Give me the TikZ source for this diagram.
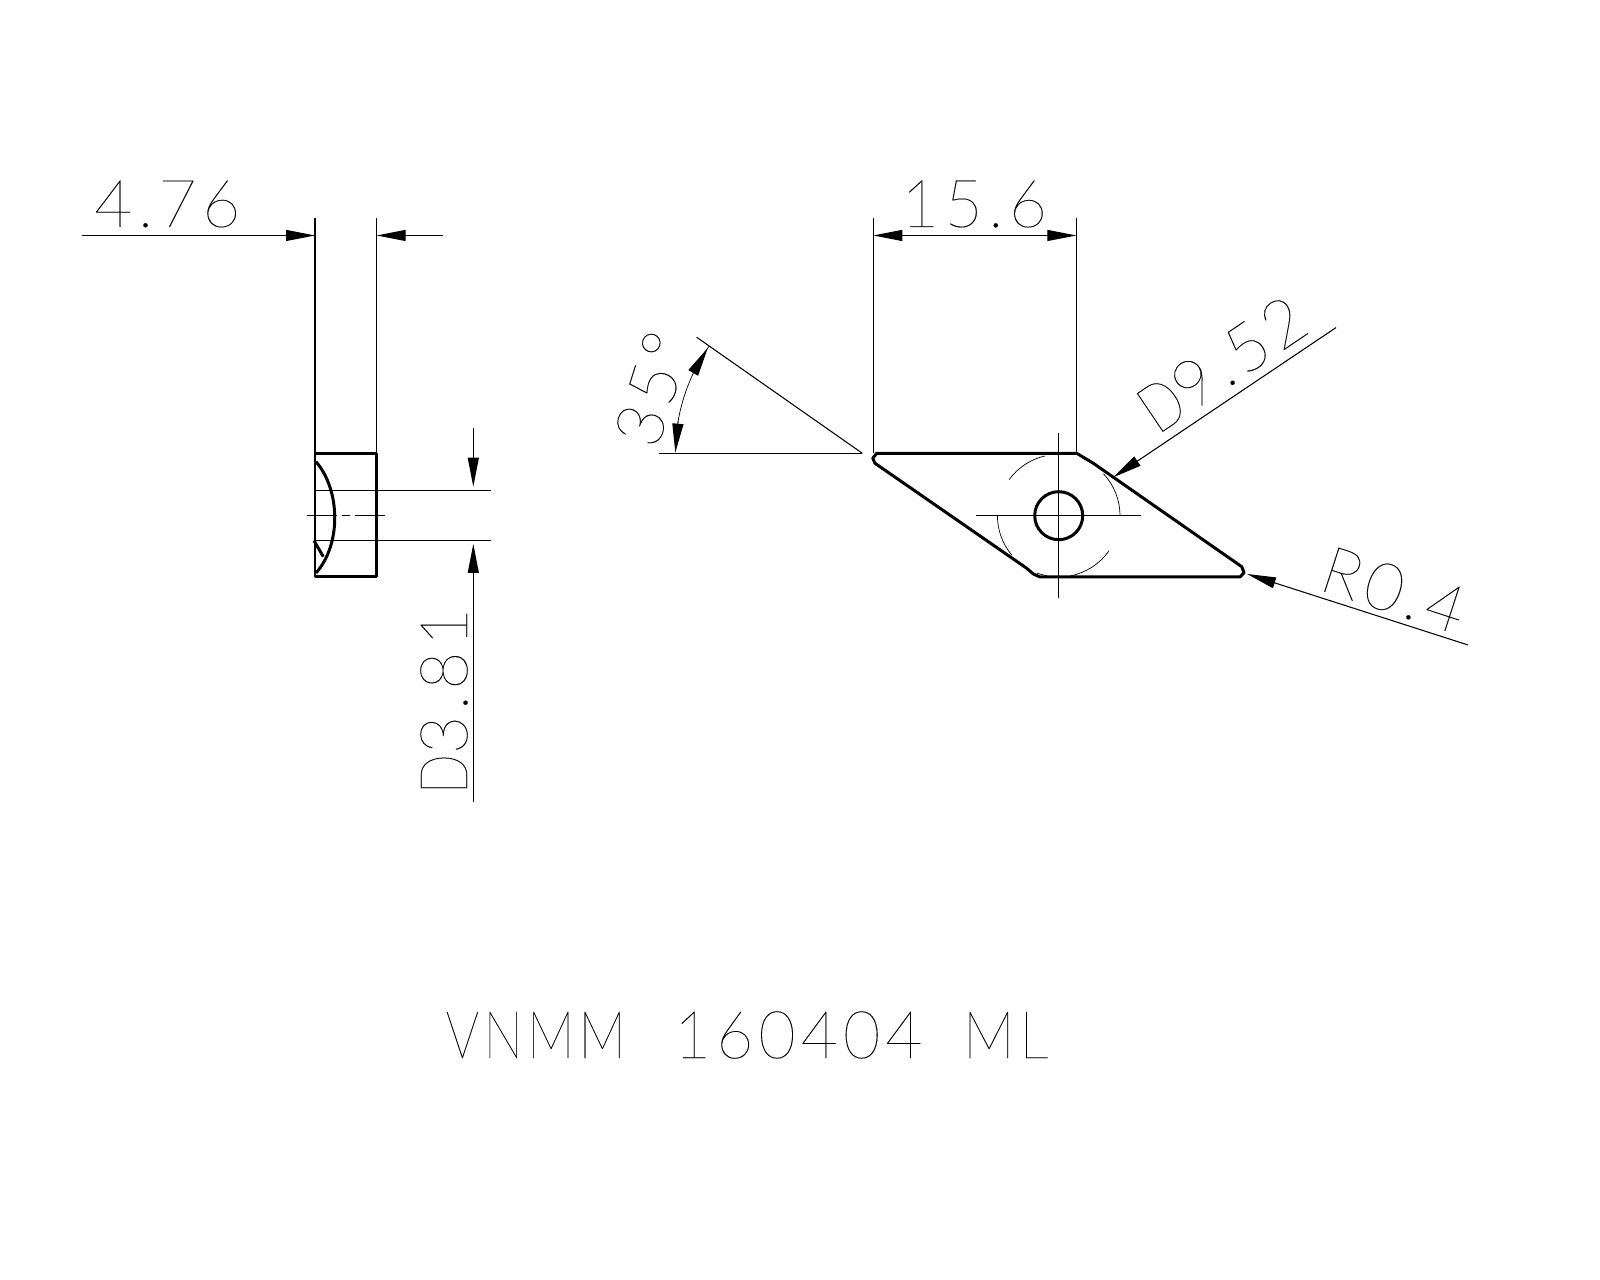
\documentclass[tikz,border=0pt]{standalone}
\usepackage{fontspec}
\newfontfamily\cadfont[LetterSpace=8,FakeBold=0.15]{Lato Hairline}
\newcommand{\cadcaps}[2][0.8]{\scalebox{#1}[1]{#2}}
\usetikzlibrary{arrows.meta}
\tikzset{
  outline/.style={line width=0.85pt, line join=round},
  thinline/.style={line width=0.3pt},
  arcline/.style={line width=0.2pt},
  dimtip/.style={line width=0.3pt, -{Triangle[length=0.29cm,width=0.11cm]}},
  cadlabel/.style={font=\cadfont\fontsize{18.8}{20}\selectfont, inner sep=0pt, text=black}
}
\begin{document}
\begin{tikzpicture}
    \useasboundingbox (0,0) rectangle (16,12.8);

    % Draw the side view of the insert
    \draw[outline] (3.15,8.267) rectangle (3.767,7.033);
    \draw[outline] (3.16,8.183) .. controls (3.41,7.89) and (3.41,7.35) .. (3.16,7.07);
    \draw[outline] (3.14,7.393) -- (3.233,7.233);

    % Draw the centre line of the side view
    \draw[thinline] (3.067,7.643) -- (3.365,7.643);
    \draw[thinline] (3.423,7.643) -- (3.50,7.643);
    \draw[thinline] (3.55,7.643) -- (3.85,7.643);

    % Draw the extension lines of the side view
    \draw[thinline] (3.15,8.267) -- (3.15,10.62);
    \draw[thinline] (3.767,8.267) -- (3.767,10.62);
    \draw[thinline] (3.15,7.897) -- (4.91,7.897);
    \draw[thinline] (3.15,7.397) -- (4.91,7.397);

    % Draw the horizontal dimension for 4.76
    \draw[dimtip] (0.82,10.445) -- (3.15,10.445);
    \draw[dimtip] (4.43,10.445) -- (3.767,10.445);
    \node[cadlabel] (thickness) at (1.673,10.76) {4.76};

    % Draw the vertical dimension for D3.81
    \draw[dimtip] (4.733,8.52) -- (4.733,7.933);
    \draw[dimtip] (4.733,4.78) -- (4.733,7.36);
    \node[cadlabel, rotate=90] (bore) at (4.44,5.79) {\cadcaps{D}3.81};

    % Draw the outline of the top view
    \coordinate (hub) at (10.587,7.643);
    \draw[outline] (8.767,8.267) -- (10.767,8.267) -- (10.933,8.167) -- (12.417,7.133)
        -- (12.44,7.073) -- (12.40,7.03) -- (10.40,7.03) -- (10.333,7.06) -- (10.267,7.117)
        -- (8.75,8.167) -- (8.727,8.217) -- cycle;
    \draw[outline] (hub) circle (0.24);

    % Draw the thin arcs of the chip breaker
    \foreach \from/\to in {0/43, 103/144, 180/220, 249/259, 281/325}
        \draw[arcline] ([shift={(\from:0.613)}]hub) arc (\from:\to:0.613);

    % Draw the centre cross of the top view
    \draw[thinline] (9.76,7.643) -- (11.41,7.643);
    \draw[thinline] (10.587,8.467) -- (10.587,6.823);

    % Draw the extension lines of the top view
    \draw[thinline] (8.733,8.267) -- (8.733,10.62);
    \draw[thinline] (10.763,8.267) -- (10.763,10.62);

    % Draw the horizontal dimension for 15.6
    \draw[dimtip] (9.75,10.445) -- (8.733,10.445);
    \draw[dimtip] (9.75,10.445) -- (10.763,10.445);
    \node[cadlabel] (width) at (9.74,10.76) {15.6};

    % Draw the leader for D9.52
    \draw[dimtip] (13.36,9.524) -- (11.133,8.027);
    \node[cadlabel, rotate=34] (circle) at (12.22,9.16) {\cadcaps{D}9.52};

    % Draw the leader for R0.4
    \draw[dimtip] (14.68,6.35) -- (12.47,7.06);
    \node[cadlabel, rotate=-18] (radius) at (13.94,6.90) {R0.4};

    % Draw the angle construction for 35 degrees
    \coordinate (apex) at (8.623,8.267);
    \draw[thinline] (apex) -- (6.59,8.267);
    \draw[thinline] (apex) -- (6.967,9.427);
    \draw[arcline] ([shift={(145:1.87)}]apex) arc (145:170:1.87);
    \draw[dimtip] ([shift={(153.5:1.87)}]apex) -- ([shift={(145.7:1.87)}]apex);
    \draw[dimtip] ([shift={(170:1.87)}]apex) -- ([shift={(179.8:1.87)}]apex);
    \node[cadlabel, rotate=72.5] (angle) at (6.52,8.91) {35°};

    % Draw the designation of the insert
    \node[cadlabel] (code) at (7.47,2.45)
        {\cadcaps{VNMM}\ \ \cadcaps[0.97]{160404}\ \hspace{4.6pt}\cadcaps[0.88]{ML}};

\end{tikzpicture}
\end{document}
